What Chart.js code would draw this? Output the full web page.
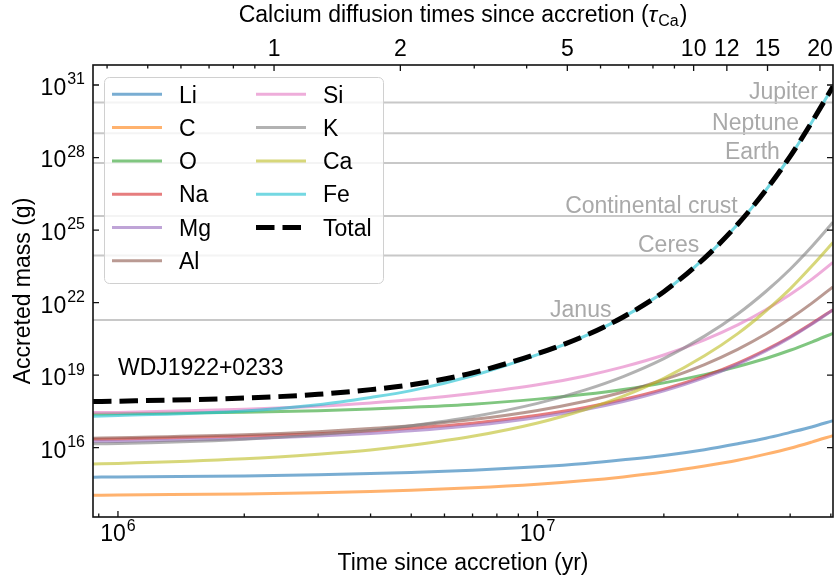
<!DOCTYPE html>
<html>
<head>
<meta charset="utf-8">
<script src="https://cdn.jsdelivr.net/npm/chart.js@4.4.0/dist/chart.umd.min.js"></script>
<style>
  html, body { margin: 0; padding: 0; background: #fff; }
</style>
</head>
<body>
<canvas id="massChart" width="838" height="584"></canvas>
<script>
// Time since accretion (yr)
const times = [8.72e5, 1e6, 2e6, 3e6, 4e6, 5e6, 7e6, 1e7, 1.3e7, 1.6e7, 2e7, 2.5e7, 3e7, 3.5e7, 4e7, 4.5e7, 5.06e7];

// Accreted mass per element (g)
const li = [6.0e14, 6.2e14, 6.8e14, 7.6e14, 8.5e14, 9.5e14, 1.17e15, 1.62e15, 2.24e15, 3.16e15, 4.8e15, 8.3e15, 1.45e16, 2.45e16, 4.3e16, 7.2e16, 1.32e17];
const c  = [1.07e14, 1.10e14, 1.23e14, 1.38e14, 1.55e14, 1.74e14, 2.19e14, 3.09e14, 4.37e14, 6.2e14, 9.8e14, 1.74e15, 3.0e15, 5.4e15, 9.5e15, 1.70e16, 3.16e16];
const o  = [2.45e17, 2.51e17, 2.95e17, 3.39e17, 3.98e17, 4.68e17, 6.3e17, 1.02e18, 1.62e18, 2.57e18, 4.79e18, 1.05e19, 2.29e19, 4.9e19, 1.07e20, 2.34e20, 5.37e20];
const na = [2.24e16, 2.29e16, 2.95e16, 3.8e16, 4.9e16, 6.3e16, 1.02e17, 2.19e17, 4.57e17, 9.8e17, 2.63e18, 9.1e18, 3.16e19, 1.12e20, 3.89e20, 1.35e21, 5.1e21];
const mg = [1.78e16, 1.82e16, 2.34e16, 3.02e16, 3.89e16, 5.0e16, 8.3e16, 1.78e17, 3.8e17, 8.1e17, 2.24e18, 7.9e18, 2.82e19, 1.0e20, 3.55e20, 1.26e21, 5.0e21];
const al = [2.45e16, 2.57e16, 3.39e16, 4.57e16, 6.2e16, 8.1e16, 1.45e17, 3.47e17, 8.3e17, 2.0e18, 6.5e18, 2.75e19, 1.17e20, 5.0e20, 2.19e21, 9.3e21, 4.5e22];
const si = [2.82e17, 2.88e17, 3.89e17, 5.2e17, 7.1e17, 9.5e17, 1.74e18, 3.98e18, 9.3e18, 2.19e19, 6.8e19, 2.88e20, 1.20e21, 5.1e21, 2.14e22, 9.1e22, 4.6e23];
const k  = [1.45e16, 1.48e16, 2.24e16, 3.47e16, 5.2e16, 8.1e16, 1.91e17, 6.8e17, 2.45e18, 8.7e18, 4.8e19, 4.1e20, 3.39e21, 2.88e22, 2.4e23, 2.04e24, 2.1e25];
const ca = [2.14e15, 2.24e15, 3.47e15, 5.4e15, 8.1e15, 1.26e16, 2.95e16, 1.05e17, 3.8e17, 1.35e18, 7.4e18, 6.3e19, 5.2e20, 4.5e21, 3.7e22, 3.16e23, 3.09e24];
const fe = [2.0e17, 2.14e17, 3.31e17, 6.0e17, 1.20e18, 2.29e18, 9.5e18, 7.1e19, 4.2e20, 2.51e21, 2.82e22, 6.9e23, 1.74e25, 4.5e26, 1.12e28, 2.82e29, 8.7e30];
const total = [8.1e17, 8.4e17, 1.13e18, 1.61e18, 2.52e18, 4.0e18, 1.24e19, 7.75e19, 4.35e20, 2.55e21, 2.83e22, 6.91e23, 1.74e25, 4.5e26, 1.12e28, 2.82e29, 8.7e30];

const elements = ['Li', 'C', 'O', 'Na', 'Mg', 'Al', 'Si', 'K', 'Ca', 'Fe'];
const elementMass = [li, c, o, na, mg, al, si, k, ca, fe];
const elementColors = ['31,119,180', '255,127,14', '44,160,44', '214,39,40', '148,103,189',
                       '140,86,75', '227,119,194', '127,127,127', '188,189,34', '23,190,207'];

// Reference bodies (g)
const bodies = ['Jupiter', 'Neptune', 'Earth', 'Continental crust', 'Ceres', 'Janus'];
const bodyMass = [1.9e30, 1.02e29, 5.97e27, 3.8e25, 8.8e23, 1.9e21];
const bodyLabelAt = [4.66e7, 4.20e7, 3.78e7, 3.00e7, 2.43e7, 1.50e7]; // right end of label, yr

// Axes
const xMin = 8.72e5, xMax = 5.06e7;
const yMin = 1.36e13, yMax = 6.71e31;
const tauCa = 2.355e6; // yr
const tauMajor = [1, 2, 5, 10, 12, 15, 20];
const tauMinor = [0.4, 0.5, 0.6, 0.7, 0.8, 0.9, 3, 4, 6, 7, 8, 9];
const xMajor = [1e6, 1e7];
const xMajorExp = ['6', '7'];
const xMinor = [9e5, 2e6, 3e6, 4e6, 5e6, 6e6, 7e6, 8e6, 9e6, 2e7, 3e7, 4e7, 5e7];
const yMajorExp = [16, 19, 22, 25, 28, 31];

const FONT = '"Liberation Sans", Arial, Helvetica, sans-serif';
const font = (size, style) => (style ? style + ' ' : '') + size + 'px ' + FONT;

const points = arr => times.map((t, i) => ({ x: t, y: arr[i] }));

const datasets = [];
elements.forEach((name, i) => {
    datasets.push({
        label: name,
        data: points(elementMass[i]),
        borderColor: 'rgba(' + elementColors[i] + ',0.6)',
        borderWidth: 3,
        order: 20 - i
    });
});
datasets.push({
    label: 'Total',
    data: points(total),
    borderColor: '#000',
    borderWidth: 5,
    borderDash: [18.5, 8],
    borderCapStyle: 'butt',
    order: 1
});
bodies.forEach((name, i) => {
    datasets.push({
        label: name,
        data: [{ x: xMin, y: bodyMass[i] }, { x: xMax, y: bodyMass[i] }],
        borderColor: '#c8c8c8',
        borderWidth: 2,
        cubicInterpolationMode: 'default',
        order: 50
    });
});

function drawPow(ctx, x, baseY, exp, align) {
    ctx.font = font(23);
    const wb = ctx.measureText('10').width;
    ctx.font = font(16);
    const we = ctx.measureText(exp).width;
    const w = wb + 1 + we;
    const x0 = align === 'right' ? x - w : x - w / 2;
    ctx.textAlign = 'left';
    ctx.textBaseline = 'alphabetic';
    ctx.font = font(23);
    ctx.fillText('10', x0, baseY);
    ctx.font = font(16);
    ctx.fillText(exp, x0 + wb + 1, baseY - 10.5);
}

const decorations = {
    id: 'decorations',
    beforeDatasetsDraw(chart) {
        const { ctx, scales: { x, y } } = chart;
        ctx.save();
        ctx.font = font(23);
        ctx.fillStyle = '#a9a9a9';
        ctx.textAlign = 'right';
        ctx.textBaseline = 'alphabetic';
        bodies.forEach((name, i) => {
            ctx.fillText(name, x.getPixelForValue(bodyLabelAt[i]), y.getPixelForValue(bodyMass[i]) - 3.5);
        });
        ctx.restore();
    },
    afterDatasetsDraw(chart) {
        const { ctx, chartArea: a, scales: { x, y } } = chart;
        ctx.save();

        // legend
        const bx = 104, by = 77, bw = 279, bh = 206;
        ctx.beginPath();
        ctx.roundRect(bx + 0.5, by + 0.5, bw, bh, 5);
        ctx.fillStyle = 'rgba(255,255,255,0.8)';
        ctx.fill();
        ctx.strokeStyle = '#d0d0d0';
        ctx.lineWidth = 1;
        ctx.stroke();
        const names = elements.concat(['Total']);
        names.forEach((name, i) => {
            const col = i < 6 ? 0 : 1;
            const row = i < 6 ? i : i - 6;
            const hx = col ? 256 : 112;
            const tx = col ? 323 : 179;
            const cy = 94.3 + row * 33.3;
            ctx.beginPath();
            ctx.moveTo(hx, cy);
            ctx.lineTo(hx + 50, cy);
            if (name === 'Total') {
                ctx.strokeStyle = '#000';
                ctx.lineWidth = 5;
                ctx.setLineDash([18.5, 8]);
            } else {
                ctx.strokeStyle = 'rgba(' + elementColors[i] + ',0.6)';
                ctx.lineWidth = 3;
                ctx.setLineDash([]);
            }
            ctx.stroke();
            ctx.setLineDash([]);
            ctx.fillStyle = '#000';
            ctx.font = font(23);
            ctx.textAlign = 'left';
            ctx.textBaseline = 'alphabetic';
            ctx.fillText(name, tx, cy + 8.2);
        });

        // star label
        ctx.fillStyle = '#000';
        ctx.font = font(23);
        ctx.textAlign = 'left';
        ctx.fillText('WDJ1922+0233', x.getPixelForValue(1e6), y.getPixelForValue(1e19));

        // frame
        ctx.strokeStyle = '#111';
        ctx.lineWidth = 1.6;
        ctx.strokeRect(a.left, a.top, a.right - a.left, a.bottom - a.top);

        // ticks (inward)
        ctx.lineWidth = 1.3;
        ctx.beginPath();
        const vTick = (px, len) => {
            ctx.moveTo(px, a.bottom); ctx.lineTo(px, a.bottom - len);
        };
        const topTick = (px, len) => {
            ctx.moveTo(px, a.top); ctx.lineTo(px, a.top + len);
        };
        xMajor.forEach(v => vTick(x.getPixelForValue(v), 6));
        xMinor.forEach(v => vTick(x.getPixelForValue(v), 3.5));
        tauMajor.forEach(v => topTick(x.getPixelForValue(v * tauCa), 6));
        tauMinor.forEach(v => topTick(x.getPixelForValue(v * tauCa), 3.5));
        yMajorExp.forEach(e => {
            const py = y.getPixelForValue(Math.pow(10, e));
            ctx.moveTo(a.left, py); ctx.lineTo(a.left + 6, py);
            ctx.moveTo(a.right, py); ctx.lineTo(a.right - 6, py);
        });
        ctx.stroke();

        // tick labels
        ctx.fillStyle = '#000';
        yMajorExp.forEach(e => {
            const py = y.getPixelForValue(Math.pow(10, e));
            drawPow(ctx, a.left - 8, py + 9.9, String(e), 'right');
        });
        xMajor.forEach((v, i) => {
            drawPow(ctx, x.getPixelForValue(v), 541, xMajorExp[i], 'center');
        });
        ctx.font = font(23);
        ctx.textAlign = 'center';
        ctx.textBaseline = 'alphabetic';
        tauMajor.forEach(v => {
            ctx.fillText(String(v), x.getPixelForValue(v * tauCa), 55.5);
        });

        // axis titles
        ctx.fillText('Time since accretion (yr)', (a.left + a.right) / 2, 570);
        ctx.save();
        ctx.translate(29.5, (a.top + a.bottom) / 2);
        ctx.rotate(-Math.PI / 2);
        ctx.fillText('Accreted mass (g)', 0, 0);
        ctx.restore();

        // top title with subscript
        const t1 = 'Calcium diffusion times since accretion (';
        ctx.font = font(23);
        const w1 = ctx.measureText(t1).width;
        ctx.font = font(23, 'italic');
        const wTau = ctx.measureText('\u03c4').width;
        ctx.font = font(16);
        const wSub = ctx.measureText('Ca').width;
        ctx.font = font(23);
        const wEnd = ctx.measureText(')').width;
        let tx = (a.left + a.right) / 2 - (w1 + wTau + wSub + wEnd + 2) / 2;
        ctx.textAlign = 'left';
        ctx.fillText(t1, tx, 21.7); tx += w1;
        ctx.font = font(23, 'italic');
        ctx.fillText('\u03c4', tx, 21.7); tx += wTau + 1;
        ctx.font = font(16);
        ctx.fillText('Ca', tx, 25.5); tx += wSub + 1;
        ctx.font = font(23);
        ctx.fillText(')', tx, 21.7);

        ctx.restore();
    }
};

new Chart(document.getElementById('massChart'), {
    type: 'line',
    data: { datasets: datasets },
    options: {
        responsive: false,
        animation: false,
        layout: { padding: { left: 93, right: 5, top: 65, bottom: 67 } },
        elements: {
            point: { radius: 0, hoverRadius: 0 },
            line: { cubicInterpolationMode: 'monotone', fill: false }
        },
        datasets: { line: { clip: 0 } },
        plugins: {
            legend: { display: false },
            tooltip: { enabled: false }
        },
        scales: {
            x: { type: 'logarithmic', min: xMin, max: xMax, display: false },
            y: { type: 'logarithmic', min: yMin, max: yMax, display: false }
        }
    },
    plugins: [decorations]
});
</script>
</body>
</html>
